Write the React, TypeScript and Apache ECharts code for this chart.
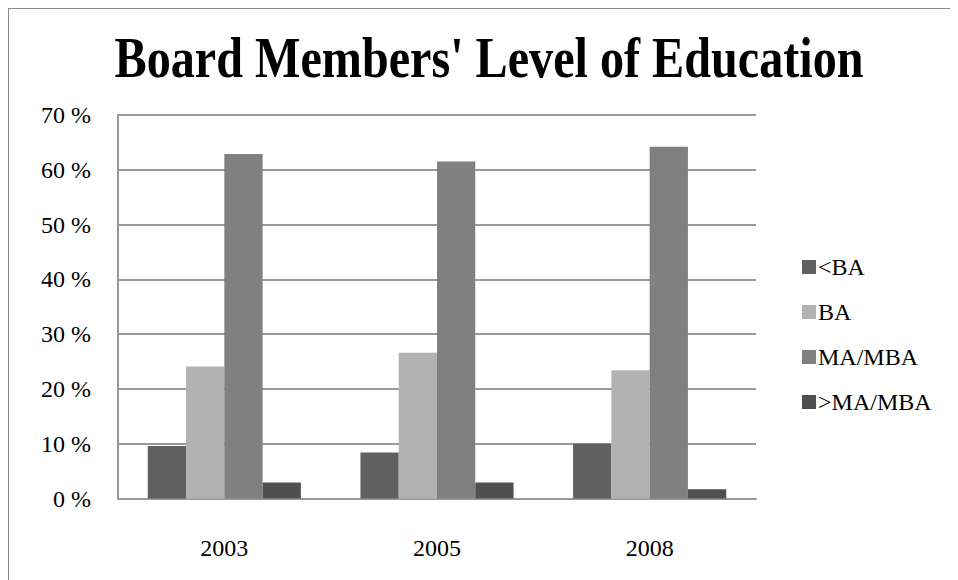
import React, { useEffect, useRef } from "react";
import * as echarts from "echarts";

const categories = ["2003", "2005", "2008"];
const seriesNames = ["<BA", "BA", "MA/MBA", ">MA/MBA"];
const lessThanBA = [9.6, 8.4, 10.0];
const ba = [24.1, 26.6, 23.4];
const maMba = [62.9, 61.5, 64.2];
const moreThanMaMba = [2.9, 2.9, 1.7];
const yTicks = [0, 10, 20, 30, 40, 50, 60, 70];
const colors = ["#606060", "#b2b2b2", "#808080", "#505050"];
const titleText = "Board Members' Level of Education";

const FONT = "Liberation Serif";

export default function App() {
  const ref = useRef<HTMLDivElement>(null);
  useEffect(() => {
    if (!ref.current) return;
    const chart = echarts.init(ref.current, undefined, { renderer: "svg" });
    const values = [lessThanBA, ba, maMba, moreThanMaMba];
    chart.setOption({
      animation: false,
      backgroundColor: "#ffffff",
      textStyle: { fontFamily: FONT },
      graphic: [
        {
          type: "text",
          x: 480,
          y: 49,
          scaleX: 0.86,
          style: {
            text: titleText,
            font: `bold 56px ${FONT}`,
            fill: "#000",
            align: "center",
            verticalAlign: "middle",
          },
        },
      ],
      legend: {
        orient: "vertical",
        left: 788,
        top: 241,
        itemWidth: 14,
        itemHeight: 14,
        itemGap: 21,
        icon: "rect",
        textStyle: { fontFamily: FONT, fontSize: 24, color: "#000", padding: [0, 0, 0, -3] },
        data: seriesNames,
      },
      grid: { left: 109, top: 106, width: 638, height: 383.5, containLabel: false },
      xAxis: {
        type: "category",
        data: categories,
        axisLine: { show: true, lineStyle: { color: "#999", width: 2 } },
        axisTick: { show: false },
        axisLabel: { fontFamily: FONT, fontSize: 24, color: "#000", margin: 37 },
      },
      yAxis: {
        type: "value",
        min: yTicks[0],
        max: yTicks[yTicks.length - 1],
        interval: 10,
        axisLine: { show: true, lineStyle: { color: "#999", width: 2 } },
        axisTick: { show: false },
        splitLine: { show: true, lineStyle: { color: "#999", width: 2 } },
        axisLabel: {
          fontFamily: FONT,
          fontSize: 24,
          color: "#000",
          margin: 27,
          formatter: (v: number) => `${v} %`,
        },
      },
      series: seriesNames.map((name, i) => ({
        name,
        type: "bar",
        data: values[i],
        barGap: "0%",
        barCategoryGap: "28%",
        itemStyle: { color: colors[i] },
      })),
    });
    return () => chart.dispose();
  }, []);
  return (
    <div
      style={{
        width: 950,
        height: 572,
        borderLeft: "1px solid #8a8a8a",
        borderTop: "1px solid #8a8a8a",
        boxSizing: "border-box",
      }}
    >
      <div ref={ref} style={{ width: 949, height: 571 }} />
    </div>
  );
}
